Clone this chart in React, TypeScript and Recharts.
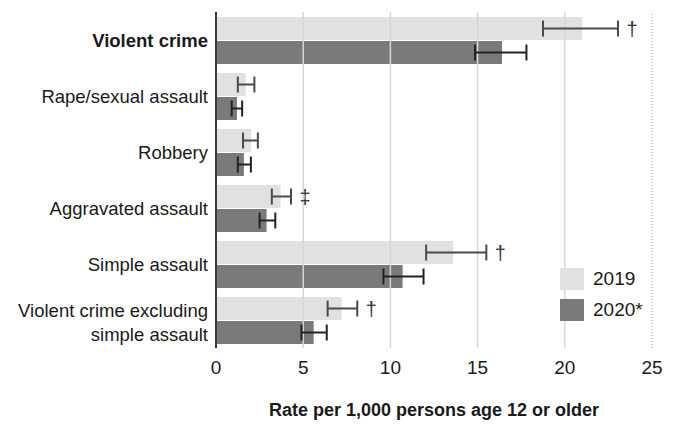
import React from 'react';
import { BarChart, Bar, XAxis, YAxis, ErrorBar, LabelList, ReferenceLine } from 'recharts';

// values (rate per 1,000 persons age 12 or older)
const categories = [
  'Violent crime',
  'Rape/sexual assault',
  'Robbery',
  'Aggravated assault',
  'Simple assault',
  'Violent crime excluding\nsimple assault',
];
const rate2019 = [21.0, 1.7, 2.0, 3.7, 13.6, 7.2];
const low2019 = [18.75, 1.25, 1.55, 3.2, 12.05, 6.4];
const high2019 = [23.05, 2.2, 2.4, 4.3, 15.5, 8.1];
const rate2020 = [16.4, 1.2, 1.6, 2.9, 10.7, 5.6];
const low2020 = [14.85, 0.9, 1.25, 2.5, 9.6, 4.9];
const high2020 = [17.8, 1.5, 2.0, 3.4, 11.9, 6.35];
const marks2019 = ['†', '', '', '‡', '†', '†'];
const xTicks = [0, 5, 10, 15, 20, 25];
const gridTicks = [5, 10, 15, 20];

const FONT = "'Liberation Sans', Arial, sans-serif";
const LIGHT = '#e1e1e1';
const DARK = '#7a7a7a';

const data = categories.map((category, i) => ({
  category,
  rate2019: rate2019[i],
  rate2020: rate2020[i],
  err2019: [rate2019[i] - low2019[i], high2019[i] - rate2019[i]],
  err2020: [rate2020[i] - low2020[i], high2020[i] - rate2020[i]],
  mark: marks2019[i],
}));

const CategoryTick = ({ x, y, payload, index }: any) => {
  const lines = String(payload.value).split('\n');
  const startY = lines.length > 1 ? y - 10 : y;
  return (
    <text
      x={x}
      y={startY}
      textAnchor="end"
      dominantBaseline="central"
      fontFamily={FONT}
      fontSize={18.5}
      fontWeight={index === 0 ? 'bold' : 'normal'}
      fill="#1a1a1a"
    >
      {lines.map((line, i) => (
        <tspan key={i} x={x} dy={i === 0 ? 0 : 24}>
          {line}
        </tspan>
      ))}
    </text>
  );
};

// dagger / double dagger to the right of the 2019 error bar
const MarkLabel = ({ x, y, width, height, value, index }: any) => {
  if (!value) return null;
  const hiX = x + (width * high2019[index]) / rate2019[index];
  return (
    <text
      x={hiX + 14}
      y={y + height / 2}
      textAnchor="middle"
      dominantBaseline="central"
      fontFamily={FONT}
      fontSize={20}
      fill="#333"
    >
      {value}
    </text>
  );
};

const YearLegend = () => (
  <div style={{ fontFamily: FONT, fontSize: 19, color: '#1a1a1a' }}>
    {[
      { label: '2019', color: LIGHT },
      { label: '2020*', color: DARK },
    ].map((item) => (
      <div key={item.label} style={{ display: 'flex', alignItems: 'center', height: 31 }}>
        <span style={{ width: 24, height: 22, background: item.color, marginRight: 9 }} />
        <span>{item.label}</span>
      </div>
    ))}
  </div>
);

export default function App() {
  return (
    <div style={{ position: 'absolute', left: 0, top: 0, background: '#fff' }}>
      <BarChart
        width={674}
        height={424}
        data={data}
        layout="vertical"
        margin={{ top: 12, right: 22, bottom: 6, left: 0 }}
        barCategoryGap={5}
        barGap={1}
      >
        {gridTicks.map((t) => (
          <ReferenceLine key={t} x={t} stroke="#d6d6d6" strokeWidth={1.5} />
        ))}
        <ReferenceLine x={25} stroke="#bdbdbd" strokeWidth={1.5} strokeDasharray="1 2" />
        <XAxis
          type="number"
          domain={[0, 25]}
          ticks={xTicks}
          axisLine={false}
          tickLine={false}
          tickMargin={7}
          height={70}
          tick={{ fontSize: 19, fill: '#1a1a1a', fontFamily: FONT }}
          label={{
            value: 'Rate per 1,000 persons age 12 or older',
            position: 'insideBottom',
            offset: 2,
            style: { fontSize: 18, fontWeight: 'bold', fill: '#1a1a1a', fontFamily: FONT },
          }}
        />
        <YAxis
          type="category"
          dataKey="category"
          width={216}
          axisLine={{ stroke: '#3a3a3a', strokeWidth: 2 }}
          tickLine={false}
          tick={<CategoryTick />}
          interval={0}
        />
        <Bar dataKey="rate2019" fill={LIGHT} isAnimationActive={false}>
          <ErrorBar dataKey="err2019" direction="x" width={8} stroke="#4a4a4a" strokeWidth={2} />
          <LabelList dataKey="mark" content={<MarkLabel />} />
        </Bar>
        <Bar dataKey="rate2020" fill={DARK} isAnimationActive={false}>
          <ErrorBar dataKey="err2020" direction="x" width={8} stroke="#222" strokeWidth={2} />
        </Bar>
      </BarChart>
      <div style={{ position: 'absolute', left: 560, top: 263 }}>
        <YearLegend />
      </div>
    </div>
  );
}
